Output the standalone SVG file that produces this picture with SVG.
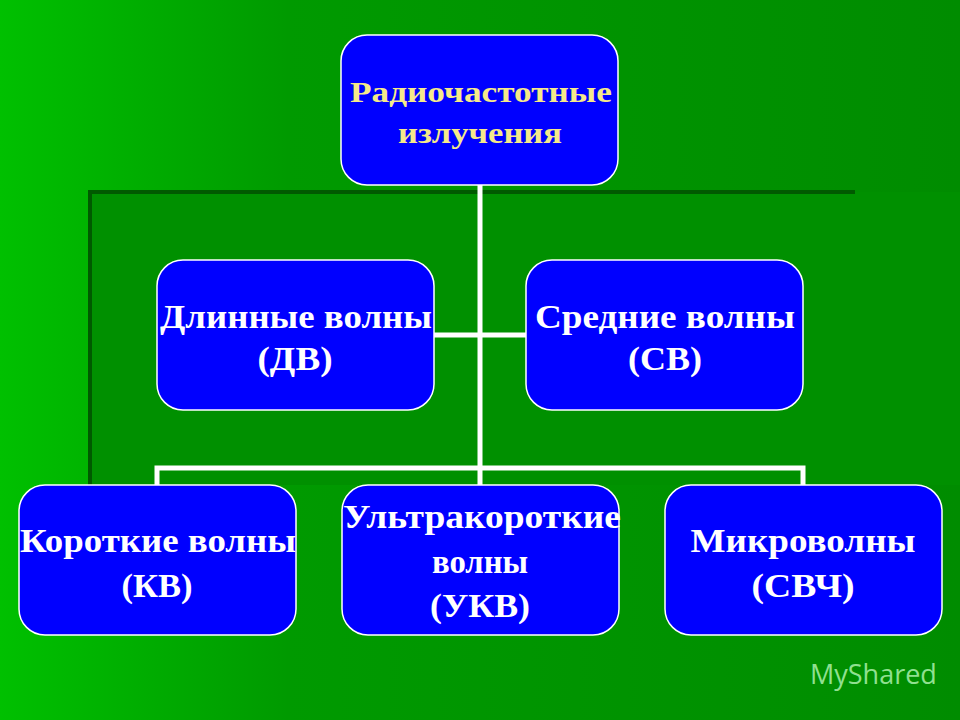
<svg xmlns="http://www.w3.org/2000/svg" width="960" height="720" viewBox="0 0 960 720">
<defs>
<linearGradient id="bg" x1="0" y1="0" x2="1" y2="0">
<stop offset="0" stop-color="#00c000"/><stop offset="0.3" stop-color="#009a00"/><stop offset="1" stop-color="#008c00"/>
</linearGradient>
<style>
.n rect{fill:#0000ff;stroke:#ffffff;stroke-width:1.5}
.n text{font-family:"Liberation Serif",serif;font-weight:bold;font-size:33px;fill:#ffffff;text-anchor:middle}
.c{stroke:#ffffff;stroke-width:5;fill:none}
</style>
</defs>
<rect width="960" height="720" fill="url(#bg)"/>
<rect x="90" y="192" width="870" height="293" fill="#009000"/>
<path d="M90 485 V192 H855" stroke="#005a00" stroke-width="4" fill="none"/>
<g id="connectors">
<path class="c" d="M480 185 V468 M434 335 H526 M157 485 V468 H803 V485 M480 468 V485"/>
</g>
<g id="top" class="n"><rect x="341" y="35" width="277" height="150" rx="26"/>
<text x="481" y="102" textLength="262" lengthAdjust="spacingAndGlyphs" style="fill:#f5e98a;font-size:30px">Радиочастотные</text><text x="480" y="143" textLength="164" lengthAdjust="spacingAndGlyphs" style="fill:#f5e98a;font-size:30px">излучения</text></g>
<g id="dv" class="n"><rect x="157" y="260" width="277" height="150" rx="26"/>
<text x="296" y="328" textLength="272" lengthAdjust="spacingAndGlyphs">Длинные волны</text><text x="295" y="370" textLength="75" lengthAdjust="spacingAndGlyphs">(ДВ)</text></g>
<g id="sv" class="n"><rect x="526" y="260" width="277" height="150" rx="26"/>
<text x="665" y="328" textLength="260" lengthAdjust="spacingAndGlyphs">Средние волны</text><text x="665" y="370" textLength="74" lengthAdjust="spacingAndGlyphs">(СВ)</text></g>
<g id="kv" class="n"><rect x="19" y="485" width="277" height="150" rx="26"/>
<text x="158" y="552" textLength="276" lengthAdjust="spacingAndGlyphs">Короткие волны</text><text x="157" y="597" textLength="71" lengthAdjust="spacingAndGlyphs">(КВ)</text></g>
<g id="ukv" class="n"><rect x="342" y="485" width="277" height="150" rx="26"/>
<text x="482" y="528" textLength="278" lengthAdjust="spacingAndGlyphs">Ультракороткие</text><text x="480" y="573" textLength="96" lengthAdjust="spacingAndGlyphs">волны</text><text x="480" y="617" textLength="100" lengthAdjust="spacingAndGlyphs">(УКВ)</text></g>
<g id="svch" class="n"><rect x="665" y="485" width="277" height="150" rx="26"/>
<text x="803" y="552" textLength="225" lengthAdjust="spacingAndGlyphs">Микроволны</text><text x="803" y="597" textLength="103" lengthAdjust="spacingAndGlyphs">(СВЧ)</text></g>
<text x="810" y="684" font-family="Open Sans, sans-serif" font-size="27" fill="#90e090">MyShared</text>
</svg>
